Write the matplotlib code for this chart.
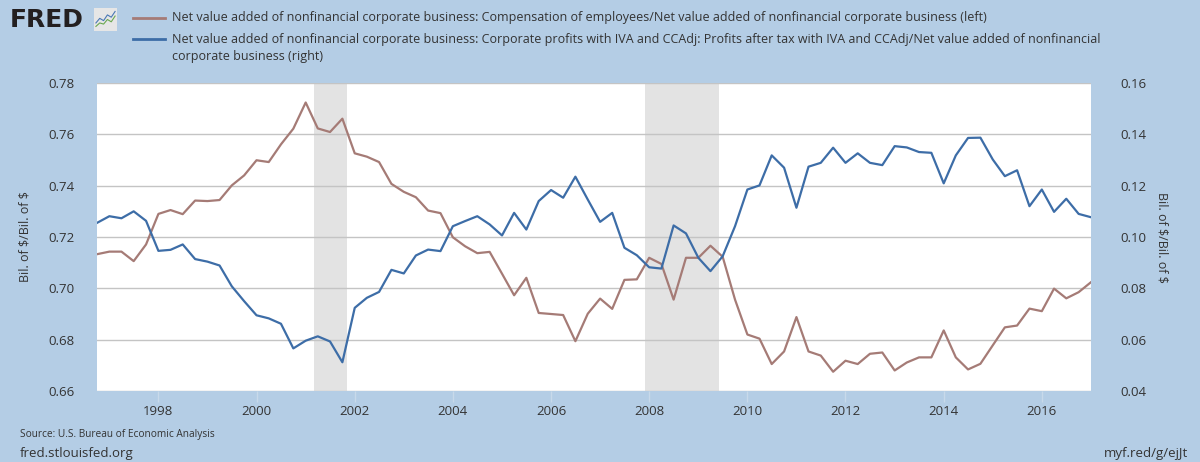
import matplotlib
matplotlib.use("Agg")
import matplotlib.pyplot as plt
import matplotlib.dates as mdates
import pandas as pd

plt.rcParams['font.family'] = ['Open Sans', 'DejaVu Sans']

# quarterly, 1996Q4 .. 2017Q1
dates = pd.date_range("1996-10-01", periods=82, freq="QS")

compensation = [
    0.7133, 0.7143, 0.7143, 0.7106, 0.7171, 0.7290, 0.7305, 0.7289, 0.7342, 0.7340,
    0.7344, 0.7401, 0.7440, 0.7499, 0.7492, 0.7561, 0.7622, 0.7724, 0.7623, 0.7609,
    0.7661, 0.7526, 0.7513, 0.7492, 0.7407, 0.7376, 0.7355, 0.7303, 0.7293, 0.7199,
    0.7164, 0.7137, 0.7142, 0.7057, 0.6973, 0.7041, 0.6904, 0.6900, 0.6896, 0.6794,
    0.6901, 0.6960, 0.6920, 0.7033, 0.7035, 0.7119, 0.7095, 0.6956, 0.7119, 0.7119,
    0.7166, 0.7123, 0.6956, 0.6820, 0.6804, 0.6705, 0.6754, 0.6888, 0.6754, 0.6738,
    0.6675, 0.6718, 0.6705, 0.6745, 0.6750, 0.6680, 0.6711, 0.6731, 0.6731, 0.6836,
    0.6731, 0.6684, 0.6706, 0.6778, 0.6848, 0.6855, 0.6921, 0.6911, 0.6999, 0.6961,
    0.6985, 0.7024,
]

profits = [
    0.1055, 0.1081, 0.1073, 0.1100, 0.1063, 0.0946, 0.0950, 0.0971, 0.0914, 0.0904,
    0.0889, 0.0808, 0.0750, 0.0695, 0.0683, 0.0662, 0.0566, 0.0596, 0.0613, 0.0593,
    0.0512, 0.0724, 0.0763, 0.0786, 0.0872, 0.0858, 0.0928, 0.0951, 0.0945, 0.1042,
    0.1062, 0.1081, 0.1049, 0.1006, 0.1094, 0.1029, 0.1140, 0.1183, 0.1153, 0.1235,
    0.1146, 0.1059, 0.1094, 0.0958, 0.0929, 0.0882, 0.0877, 0.1045, 0.1014, 0.0919,
    0.0867, 0.0925, 0.1042, 0.1185, 0.1201, 0.1318, 0.1270, 0.1114, 0.1274, 0.1289,
    0.1348, 0.1289, 0.1326, 0.1289, 0.1280, 0.1354, 0.1349, 0.1331, 0.1328, 0.1209,
    0.1318, 0.1386, 0.1387, 0.1302, 0.1237, 0.1260, 0.1120, 0.1185, 0.1098, 0.1149,
    0.1090, 0.1077,
]

recessions = [("2001-03-01", "2001-11-01"), ("2007-12-01", "2009-06-01")]

left_ticks = [0.66, 0.68, 0.70, 0.72, 0.74, 0.76, 0.78]
right_ticks = [0.04, 0.06, 0.08, 0.10, 0.12, 0.14, 0.16]
year_ticks = list(range(1998, 2017, 2))

# little zigzags for the logo icon
icon_blue = [0.35, 0.55, 0.45, 0.7, 0.6, 0.85]
icon_green = [0.2, 0.35, 0.3, 0.5, 0.4, 0.65]

label_left = ("Net value added of nonfinancial corporate business: Compensation of employees/"
              "Net value added of nonfinancial corporate business (left)")
label_right = ("Net value added of nonfinancial corporate business: Corporate profits with IVA and "
               "CCAdj: Profits after tax with IVA and CCAdj/Net value added of nonfinancial\n"
               "corporate business (right)")
unit_label = r"Bil. of \$/Bil. of \$"

bg = "#b4cde5"
brown = "#a57b76"
blue = "#3d6da7"
txt = "#333333"

fig = plt.figure(figsize=(12, 4.62), dpi=100, facecolor=bg)
ax = fig.add_axes([97 / 1200, 1 - 391 / 462, (1091 - 97) / 1200, (391 - 83) / 462])
ax.set_facecolor("white")
ax2 = ax.twinx()

for start, end in recessions:
    ax.axvspan(pd.Timestamp(start), pd.Timestamp(end), color="#e3e3e3", lw=0, zorder=0)

ax.plot(dates, compensation, color=brown, lw=1.6, zorder=3)
ax2.plot(dates, profits, color=blue, lw=1.6, zorder=3)

ax.set_xlim(pd.Timestamp("1996-10-01"), pd.Timestamp("2017-01-01"))
ax.set_ylim(0.66, 0.78)
ax2.set_ylim(0.04, 0.16)
ax.set_yticks(left_ticks)
ax2.set_yticks(right_ticks)
ax.set_yticklabels([f"{v:.2f}" for v in left_ticks])
ax2.set_yticklabels([f"{v:.2f}" for v in right_ticks])
ax.set_xticks([pd.Timestamp(f"{y}-01-01") for y in year_ticks])
ax.xaxis.set_major_formatter(mdates.DateFormatter("%Y"))

ax.grid(axis="y", color="#c4c4c4", lw=1.0, zorder=1)
ax.set_axisbelow(True)
for a in (ax, ax2):
    for s in a.spines.values():
        s.set_visible(False)
ax.tick_params(axis="y", length=0, pad=16, labelsize=9.5, labelcolor=txt)
ax2.tick_params(axis="y", length=0, pad=21, labelsize=9.5, labelcolor=txt)
ax.tick_params(axis="x", length=8, color="#c8d9ea", width=1, pad=2, labelsize=9.5, labelcolor=txt)

ax.set_ylabel(unit_label, fontsize=9, color=txt, labelpad=12)
ax2.set_ylabel(unit_label, fontsize=9, color=txt, rotation=270, labelpad=16)

# header: logo and legend
fig.text(10 / 1200, 1 - 20 / 462, "FRED", fontsize=18, fontweight="bold", color="#231f20",
         va="center", ha="left", family="DejaVu Sans")
icon = fig.add_axes([94 / 1200, 1 - 31 / 462, 23 / 1200, 23 / 462])
icon.set_facecolor("#e6e6e6")
icon.plot(range(len(icon_blue)), icon_blue, color="#4a78b5", lw=0.8)
icon.plot(range(len(icon_green)), icon_green, color="#6aa84f", lw=0.8)
icon.set_xlim(-0.5, len(icon_blue) - 0.5)
icon.set_ylim(0, 1)
icon.set_xticks([])
icon.set_yticks([])
for s in icon.spines.values():
    s.set_visible(False)

legend_rows = [(label_left, brown, 18, 18), (label_right, blue, 39, 48)]
for text, col, y_line, y_text in legend_rows:
    fig.add_artist(plt.Line2D([133 / 1200, 165 / 1200], [1 - y_line / 462, 1 - y_line / 462],
                              color=col, lw=2))
    fig.text(172 / 1200, 1 - y_text / 462, text, fontsize=9, color=txt, va="center",
             linespacing=1.4)

fig.text(20 / 1200, 1 - 435 / 462, "Source: U.S. Bureau of Economic Analysis", fontsize=7.3,
         color=txt, va="center")
fig.text(20 / 1200, 1 - 453 / 462, "fred.stlouisfed.org", fontsize=9.5, color=txt, va="center")
fig.text(1188 / 1200, 1 - 453 / 462, "myf.red/g/ejJt", fontsize=9.5, color=txt, va="center",
         ha="right")

fig.savefig("out.png", dpi=100, facecolor=bg)
